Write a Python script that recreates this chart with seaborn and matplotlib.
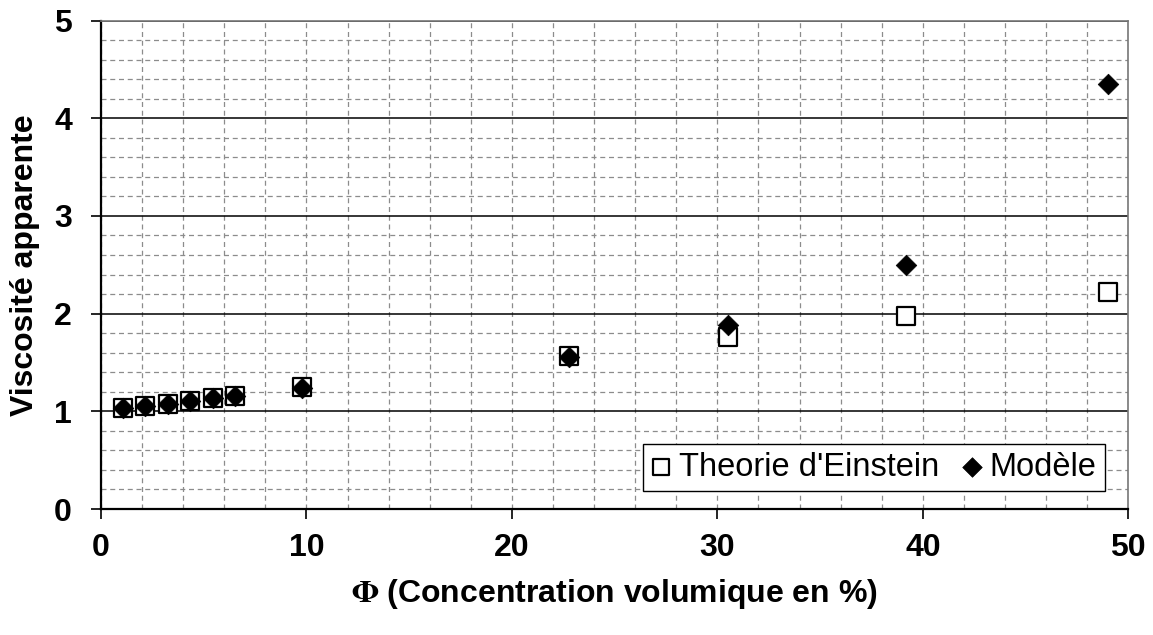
import numpy as np
import pandas as pd
import matplotlib
matplotlib.use("Agg")
import matplotlib.pyplot as plt
from matplotlib.ticker import MultipleLocator
import seaborn as sns

# Volume concentration (%) and apparent viscosity
phi = [1.06, 2.14, 3.25, 4.33, 5.44, 6.52, 9.8, 22.8, 30.5, 39.2, 49.0]
einstein = [1.03, 1.05, 1.08, 1.11, 1.14, 1.16, 1.25, 1.57, 1.76, 1.98, 2.22]
modele = [1.03, 1.05, 1.08, 1.11, 1.14, 1.16, 1.24, 1.56, 1.88, 2.50, 4.35]

x_ticks = [0, 10, 20, 30, 40, 50]
y_ticks = [0, 1, 2, 3, 4, 5]

sns.set_theme(style="white")
plt.rcParams["font.family"] = ["Liberation Sans", "DejaVu Sans"]
plt.rcParams["mathtext.fontset"] = "stix"
plt.rcParams["text.color"] = "black"
plt.rcParams["axes.labelcolor"] = "black"
plt.rcParams["xtick.color"] = "black"
plt.rcParams["ytick.color"] = "black"

df_e = pd.DataFrame({"phi": phi, "visc": einstein})
df_m = pd.DataFrame({"phi": phi, "visc": modele})

fig = plt.figure(figsize=(11.53, 6.35), dpi=100)
ax = fig.add_axes([0.0876, 0.1984, 0.8910, 0.7692])

# Grid: dashed minor lines, solid major horizontal lines
ax.set_xlim(0, 50)
ax.set_ylim(0, 5)
ax.xaxis.set_major_locator(MultipleLocator(10))
ax.xaxis.set_minor_locator(MultipleLocator(2))
ax.yaxis.set_major_locator(MultipleLocator(1))
ax.yaxis.set_minor_locator(MultipleLocator(0.2))
ax.grid(which="minor", axis="both", color="#8c8c8c", linestyle=(0, (4, 3)), linewidth=0.9)
ax.grid(which="major", axis="x", color="#8c8c8c", linestyle=(0, (4, 3)), linewidth=0.9)
ax.grid(which="major", axis="y", color="black", linestyle="-", linewidth=1.1)
ax.set_axisbelow(True)

sns.scatterplot(data=df_e, x="phi", y="visc", ax=ax, marker="s", s=150,
                facecolor="white", edgecolor="black", linewidth=1.6, zorder=3,
                label="Theorie d'Einstein")
sns.scatterplot(data=df_m, x="phi", y="visc", ax=ax, marker="D", s=110,
                color="black", edgecolor="black", linewidth=0.5, zorder=4,
                label="Modèle")

ax.set_xticks(x_ticks)
ax.set_yticks(y_ticks)
ax.set_xticklabels([str(v) for v in x_ticks], fontsize=23, fontweight="bold")
ax.set_yticklabels([str(v) for v in y_ticks], fontsize=23, fontweight="bold")
ax.tick_params(axis="both", which="major", direction="out", length=7, width=1.2,
               color="black", labelcolor="black", left=True, bottom=True)
ax.tick_params(axis="x", which="major", pad=10)
ax.tick_params(axis="y", which="major", pad=14)
ax.tick_params(axis="both", which="minor", length=0)

ax.set_xlabel(r"$\mathbf{\Phi}$ (Concentration volumique en %)", fontsize=23,
              fontweight="bold", labelpad=10)
ax.set_ylabel("Viscosité apparente", fontsize=23, fontweight="bold", labelpad=10)

for side in ["left", "bottom"]:
    ax.spines[side].set_color("black")
    ax.spines[side].set_linewidth(1.6)
for side in ["top", "right"]:
    ax.spines[side].set_color("#777777")
    ax.spines[side].set_linewidth(1.2)

leg = ax.legend(loc="lower right", bbox_to_anchor=(0.977, 0.037), borderaxespad=0,
                ncol=2, fontsize=23.5, frameon=True, fancybox=False, framealpha=1,
                edgecolor="black", handletextpad=0.25, columnspacing=0.7,
                borderpad=0.25, handlelength=0.6, markerscale=0.95)
leg.get_frame().set_linewidth(1.0)
for t in leg.get_texts():
    t.set_color("black")

fig.savefig("out.png", dpi=100)
